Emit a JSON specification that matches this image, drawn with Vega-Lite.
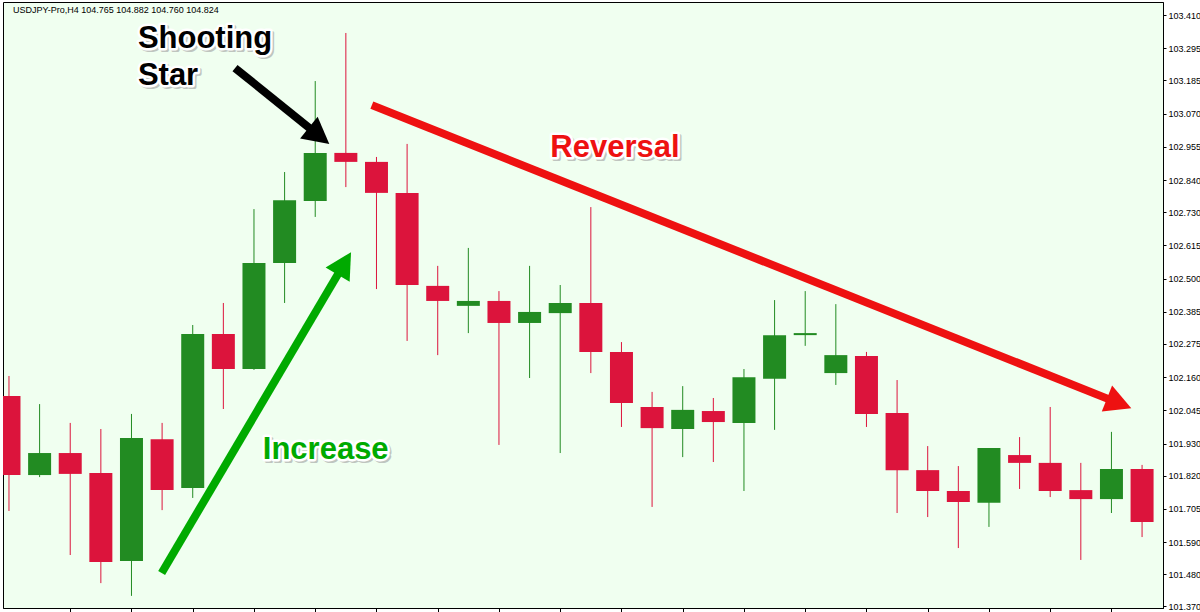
{
  "$schema": "https://vega.github.io/schema/vega-lite/v6.json",
  "width": 1160,
  "height": 606,
  "autosize": {"type": "none"},
  "padding": {"left": 3, "top": 2, "right": 37, "bottom": 4},
  "background": "#ffffff",
  "config": {
    "view": {"fill": "#F0FFF0", "stroke": "#000000", "strokeWidth": 1}
  },
  "datasets": {
    "candles": [
      {"i": 0, "o": 102.095, "h": 102.164, "l": 101.698, "c": 101.822},
      {"i": 1, "o": 101.822, "h": 102.067, "l": 101.815, "c": 101.898},
      {"i": 2, "o": 101.898, "h": 102.002, "l": 101.546, "c": 101.826},
      {"i": 3, "o": 101.829, "h": 101.981, "l": 101.449, "c": 101.522},
      {"i": 4, "o": 101.525, "h": 102.033, "l": 101.405, "c": 101.950},
      {"i": 5, "o": 101.946, "h": 102.002, "l": 101.701, "c": 101.770},
      {"i": 6, "o": 101.777, "h": 102.340, "l": 101.743, "c": 102.309},
      {"i": 7, "o": 102.309, "h": 102.416, "l": 102.050, "c": 102.188},
      {"i": 8, "o": 102.188, "h": 102.740, "l": 102.185, "c": 102.554},
      {"i": 9, "o": 102.554, "h": 102.868, "l": 102.416, "c": 102.771},
      {"i": 10, "o": 102.768, "h": 103.182, "l": 102.713, "c": 102.934},
      {"i": 11, "o": 102.934, "h": 103.348, "l": 102.816, "c": 102.903},
      {"i": 12, "o": 102.903, "h": 102.920, "l": 102.464, "c": 102.796},
      {"i": 13, "o": 102.796, "h": 102.965, "l": 102.285, "c": 102.478},
      {"i": 14, "o": 102.475, "h": 102.544, "l": 102.236, "c": 102.423},
      {"i": 15, "o": 102.406, "h": 102.606, "l": 102.312, "c": 102.423},
      {"i": 16, "o": 102.423, "h": 102.457, "l": 101.926, "c": 102.347},
      {"i": 17, "o": 102.347, "h": 102.544, "l": 102.157, "c": 102.385},
      {"i": 18, "o": 102.381, "h": 102.478, "l": 101.898, "c": 102.416},
      {"i": 19, "o": 102.416, "h": 102.747, "l": 102.174, "c": 102.247},
      {"i": 20, "o": 102.247, "h": 102.281, "l": 101.988, "c": 102.071},
      {"i": 21, "o": 102.057, "h": 102.109, "l": 101.712, "c": 101.984},
      {"i": 22, "o": 101.981, "h": 102.129, "l": 101.884, "c": 102.047},
      {"i": 23, "o": 102.043, "h": 102.088, "l": 101.867, "c": 102.005},
      {"i": 24, "o": 102.002, "h": 102.188, "l": 101.767, "c": 102.160},
      {"i": 25, "o": 102.154, "h": 102.426, "l": 101.978, "c": 102.305},
      {"i": 26, "o": 102.305, "h": 102.457, "l": 102.268, "c": 102.312},
      {"i": 27, "o": 102.174, "h": 102.412, "l": 102.133, "c": 102.236},
      {"i": 28, "o": 102.233, "h": 102.247, "l": 101.988, "c": 102.033},
      {"i": 29, "o": 102.036, "h": 102.150, "l": 101.691, "c": 101.839},
      {"i": 30, "o": 101.839, "h": 101.922, "l": 101.677, "c": 101.767},
      {"i": 31, "o": 101.767, "h": 101.853, "l": 101.570, "c": 101.729},
      {"i": 32, "o": 101.726, "h": 101.915, "l": 101.643, "c": 101.915},
      {"i": 33, "o": 101.891, "h": 101.953, "l": 101.774, "c": 101.864},
      {"i": 34, "o": 101.864, "h": 102.057, "l": 101.746, "c": 101.767},
      {"i": 35, "o": 101.770, "h": 101.864, "l": 101.529, "c": 101.739},
      {"i": 36, "o": 101.739, "h": 101.971, "l": 101.691, "c": 101.843},
      {"i": 37, "o": 101.843, "h": 101.857, "l": 101.608, "c": 101.660}
    ],
    "arrows": [
      {"arrow": "star", "x": 7.381, "y": 103.227, "xe": 10.078, "ye": 102.997},
      {"arrow": "increase", "x": 4.985, "y": 101.484, "xe": 10.919, "ye": 102.547},
      {"arrow": "reversal", "x": 11.849, "y": 103.099, "xe": 36.193, "ye": 102.072}
    ],
    "notes": [
      {"label": "Shooting", "group": "star", "x": 4.209, "y": 103.296},
      {"label": "Star", "group": "star", "x": 4.209, "y": 103.168},
      {"label": "Reversal", "group": "reversal", "x": 17.676, "y": 102.920},
      {"label": "Increase", "group": "increase", "x": 8.288, "y": 101.877}
    ],
    "header": [
      {"label": "USDJPY-Pro,H4  104.765 104.882 104.760 104.824", "x": 0.13, "y": 103.417}
    ]
  },
  "layer": [
    {
      "data": {"name": "candles"},
      "mark": {"type": "rule", "strokeWidth": 1, "clip": true},
      "encoding": {
        "x": {"field": "i", "type": "quantitative",
          "scale": {"domain": [-0.032, 37.52], "nice": false, "zero": false},
          "axis": {"values": [2,4,6,8,10,12,14,16,18,20,22,24,26,28,30,32,34,36], "tickCount": 40, "labels": false, "tickSize": 4, "tickColor": "#000000", "domainColor": "#000000", "grid": false, "title": null}},
        "y": {"field": "l", "type": "quantitative",
          "scale": {"domain": [101.3631, 103.4549], "nice": false, "zero": false},
          "axis": {"orient": "right", "values": [103.410, 103.295, 103.185, 103.070, 102.955, 102.840, 102.730, 102.615, 102.500, 102.385, 102.275, 102.160, 102.045, 101.930, 101.820, 101.705, 101.590, 101.480, 101.370],
            "tickCount": 40, "format": ".3f", "labelFont": "Liberation Sans", "labelFontSize": 9, "labelColor": "#000000", "labelFlush": false, "labelOverlap": false,
            "tickColor": "#000000", "tickSize": 3, "labelPadding": 2, "domainColor": "#000000", "grid": false, "title": null}},
        "y2": {"field": "h"},
        "color": {"condition": {"test": "datum.c >= datum.o", "value": "#228B22"}, "value": "#DC143C"}
      }
    },
    {
      "data": {"name": "candles"},
      "mark": {"type": "bar", "size": 23, "clip": true},
      "encoding": {
        "x": {"field": "i", "type": "quantitative", "scale": {"domain": [-0.032, 37.52], "nice": false, "zero": false}},
        "y": {"field": "o", "type": "quantitative", "scale": {"domain": [101.3631, 103.4549], "nice": false, "zero": false}},
        "y2": {"field": "c"},
        "color": {"condition": {"test": "datum.c >= datum.o", "value": "#228B22"}, "value": "#DC143C"}
      }
    },
    {
      "data": {"name": "arrows"},
      "mark": {"type": "rule", "strokeWidth": 8, "strokeCap": "butt"},
      "encoding": {
        "x": {"field": "x", "type": "quantitative", "scale": {"domain": [-0.032, 37.52], "nice": false, "zero": false}},
        "y": {"field": "y", "type": "quantitative", "scale": {"domain": [101.3631, 103.4549], "nice": false, "zero": false}},
        "x2": {"field": "xe"},
        "y2": {"field": "ye"},
        "color": {"field": "arrow", "type": "nominal", "scale": {"domain": ["star", "increase", "reversal"], "range": ["#000000", "#00AA00", "#EE1111"]}, "legend": null}
      }
    },
    {
      "data": {"name": "arrows"},
      "transform": [{"filter": "datum.arrow === 'star'"}],
      "mark": {"type": "point", "shape": "M0,-1.07L1,0.8L-1,0.8Z", "size": 784, "angle": 128.7, "filled": true, "color": "#000000", "opacity": 1},
      "encoding": {
        "x": {"field": "xe", "type": "quantitative", "scale": {"domain": [-0.032, 37.52], "nice": false, "zero": false}},
        "y": {"field": "ye", "type": "quantitative", "scale": {"domain": [101.3631, 103.4549], "nice": false, "zero": false}}
      }
    },
    {
      "data": {"name": "arrows"},
      "transform": [{"filter": "datum.arrow === 'increase'"}],
      "mark": {"type": "point", "shape": "M0,-1.07L1,0.8L-1,0.8Z", "size": 784, "angle": 30.8, "filled": true, "color": "#00AA00", "opacity": 1},
      "encoding": {
        "x": {"field": "xe", "type": "quantitative", "scale": {"domain": [-0.032, 37.52], "nice": false, "zero": false}},
        "y": {"field": "ye", "type": "quantitative", "scale": {"domain": [101.3631, 103.4549], "nice": false, "zero": false}}
      }
    },
    {
      "data": {"name": "arrows"},
      "transform": [{"filter": "datum.arrow === 'reversal'"}],
      "mark": {"type": "point", "shape": "M0,-1.07L1,0.8L-1,0.8Z", "size": 784, "angle": 111.6, "filled": true, "color": "#EE1111", "opacity": 1},
      "encoding": {
        "x": {"field": "xe", "type": "quantitative", "scale": {"domain": [-0.032, 37.52], "nice": false, "zero": false}},
        "y": {"field": "ye", "type": "quantitative", "scale": {"domain": [101.3631, 103.4549], "nice": false, "zero": false}}
      }
    },
    {
      "data": {"name": "notes"},
      "mark": {"type": "text", "font": "Liberation Sans", "fontWeight": "bold", "fontSize": 31, "align": "left", "baseline": "alphabetic", "dx": 2, "dy": 2, "fill": "#a0a0a0", "stroke": "#a0a0a0", "strokeWidth": 4, "strokeJoin": "round", "opacity": 0.6},
      "encoding": {
        "x": {"field": "x", "type": "quantitative", "scale": {"domain": [-0.032, 37.52], "nice": false, "zero": false}},
        "y": {"field": "y", "type": "quantitative", "scale": {"domain": [101.3631, 103.4549], "nice": false, "zero": false}},
        "text": {"field": "label"}
      }
    },
    {
      "data": {"name": "notes"},
      "mark": {"type": "text", "font": "Liberation Sans", "fontWeight": "bold", "fontSize": 31, "align": "left", "baseline": "alphabetic", "fill": "#ffffff", "stroke": "#ffffff", "strokeWidth": 5, "strokeJoin": "round"},
      "encoding": {
        "x": {"field": "x", "type": "quantitative", "scale": {"domain": [-0.032, 37.52], "nice": false, "zero": false}},
        "y": {"field": "y", "type": "quantitative", "scale": {"domain": [101.3631, 103.4549], "nice": false, "zero": false}},
        "text": {"field": "label"}
      }
    },
    {
      "data": {"name": "notes"},
      "mark": {"type": "text", "font": "Liberation Sans", "fontWeight": "bold", "fontSize": 31, "align": "left", "baseline": "alphabetic"},
      "encoding": {
        "x": {"field": "x", "type": "quantitative", "scale": {"domain": [-0.032, 37.52], "nice": false, "zero": false}},
        "y": {"field": "y", "type": "quantitative", "scale": {"domain": [101.3631, 103.4549], "nice": false, "zero": false}},
        "text": {"field": "label"},
        "color": {"field": "group", "type": "nominal", "scale": {"domain": ["star", "reversal", "increase"], "range": ["#000000", "#E81A1A", "#0DA50D"]}, "legend": null}
      }
    },
    {
      "data": {"name": "header"},
      "mark": {"type": "text", "font": "Liberation Sans", "fontSize": 9, "align": "left", "baseline": "alphabetic", "color": "#000000"},
      "encoding": {
        "x": {"field": "x", "type": "quantitative", "scale": {"domain": [-0.032, 37.52], "nice": false, "zero": false}},
        "y": {"field": "y", "type": "quantitative", "scale": {"domain": [101.3631, 103.4549], "nice": false, "zero": false}},
        "text": {"field": "label"}
      }
    }
  ]
}
